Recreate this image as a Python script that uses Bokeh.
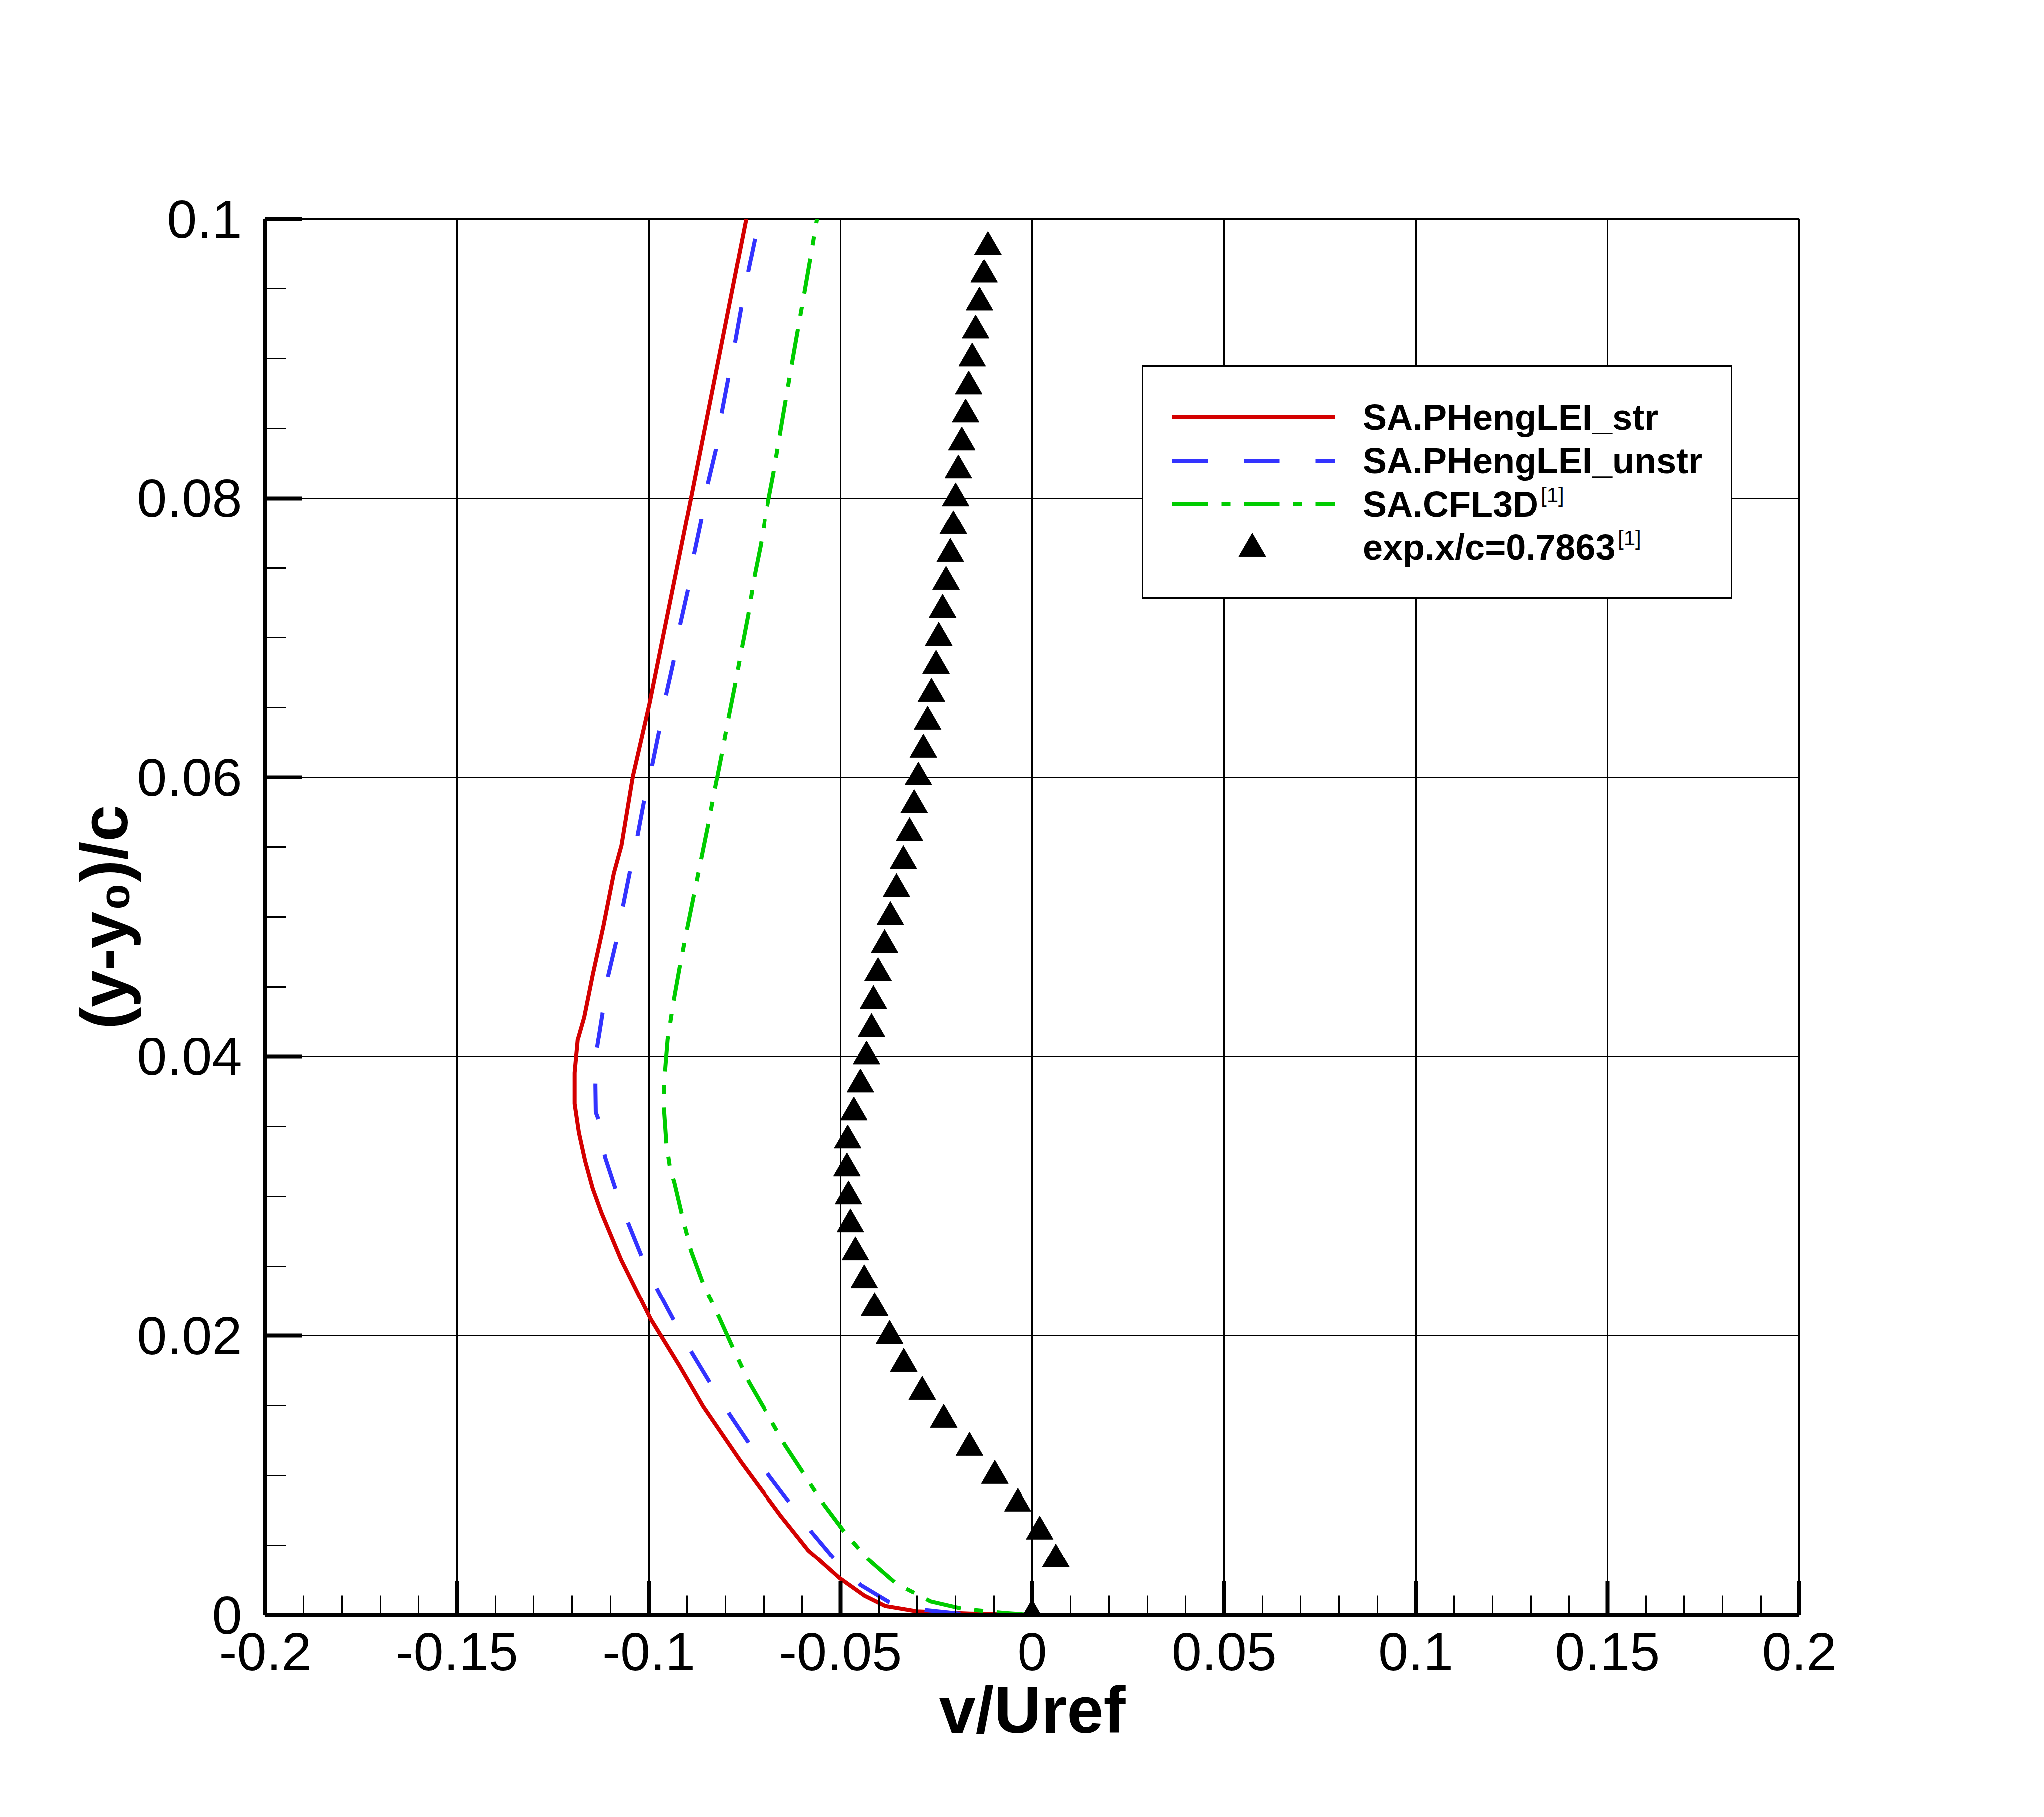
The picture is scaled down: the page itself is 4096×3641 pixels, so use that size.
from bokeh.plotting import figure
from bokeh.models import (Range1d, SingleIntervalTicker, CustomJSTickFormatter,
                          Legend, LegendItem)
from bokeh.embed import file_html
from bokeh.resources import INLINE

# ---------------- data ----------------
str_x = [0.0, -0.0164, -0.0301, -0.0383, -0.0438, -0.0502, -0.0584, -0.0657, -0.0758,
         -0.0858, -0.0922, -0.0995, -0.1072, -0.1123, -0.1146, -0.1166, -0.1182, -0.1193,
         -0.1193, -0.1185, -0.1168, -0.1146, -0.1118, -0.1091, -0.1071, -0.1041, -0.1031,
         -0.0998, -0.0890, -0.0746]
str_y = [0.0, 0.0001, 0.00026, 0.00064, 0.00139, 0.00264, 0.00465, 0.00716, 0.01092,
         0.01493, 0.01794, 0.0212, 0.02546, 0.02881, 0.03056, 0.03256, 0.03457, 0.03662,
         0.03883, 0.04121, 0.04284, 0.04585, 0.04936, 0.05312, 0.05512, 0.06014, 0.06133,
         0.0653, 0.08, 0.1]

unstr_x = [0.0, -0.0192, -0.0274, -0.0374, -0.0447, -0.0516, -0.0575, -0.0632, -0.0687,
           -0.0739, -0.0789, -0.0840, -0.0887, -0.0934, -0.0977, -0.1018, -0.1052, -0.1086,
           -0.1114, -0.1130, -0.1138, -0.1139, -0.1135, -0.1121, -0.1107, -0.1086, -0.1068,
           -0.1050, -0.1030, -0.1013, -0.0992, -0.0974, -0.0956, -0.0936, -0.0919, -0.0899,
           -0.0883, -0.0864, -0.0847, -0.0826, -0.0811, -0.0794, -0.0776, -0.0760, -0.0742,
           -0.0723]
unstr_y = [0.0, 0.0001, 0.00034, 0.00094, 0.00214, 0.00402, 0.00595, 0.00804, 0.01004,
           0.0123, 0.01435, 0.01661, 0.01874, 0.02107, 0.02328, 0.02566, 0.02797, 0.03047,
           0.03281, 0.03544, 0.036, 0.03795, 0.04058, 0.04302, 0.04565, 0.0481, 0.05066,
           0.05312, 0.0557, 0.05818, 0.06077, 0.0632, 0.06579, 0.06825, 0.07086, 0.07331,
           0.07587, 0.07833, 0.08096, 0.08339, 0.08598, 0.08843, 0.09104, 0.0935, 0.09608,
           0.09859]

cfl3d_x = [0.0, -0.0073, -0.0182, -0.0265, -0.0356, -0.0429, -0.0488, -0.0543, -0.0593,
           -0.0644, -0.0694, -0.0739, -0.0780, -0.0817, -0.0858, -0.0890, -0.0913, -0.0933,
           -0.0945, -0.0954, -0.0960, -0.0961, -0.0958, -0.0951, -0.0936, -0.0920, -0.0902,
           -0.0884, -0.0865, -0.0847, -0.0829, -0.0811, -0.0794, -0.0776, -0.0758, -0.0741,
           -0.0726, -0.0708, -0.0692, -0.0675, -0.0659, -0.0644, -0.0628, -0.0612, -0.0595,
           -0.0580, -0.0561]
cfl3d_y = [0.0, 0.00014, 0.00044, 0.00097, 0.00227, 0.00402, 0.0059, 0.00791, 0.01004,
           0.01217, 0.01456, 0.01669, 0.01907, 0.02133, 0.02371, 0.02609, 0.0286, 0.03093,
           0.03208, 0.03369, 0.03607, 0.03732, 0.03883, 0.04121, 0.04389, 0.04635, 0.04891,
           0.05136, 0.05394, 0.05638, 0.05901, 0.06152, 0.06404, 0.06654, 0.06918, 0.07161,
           0.07419, 0.07663, 0.07926, 0.08171, 0.08434, 0.08678, 0.08936, 0.09187, 0.0945,
           0.09688, 0.1]

exp_y = [0.0, 0.004, 0.006, 0.008, 0.010, 0.012, 0.014, 0.016, 0.018, 0.020, 0.022,
         0.024, 0.026, 0.028, 0.030, 0.032, 0.034, 0.036, 0.038, 0.040, 0.042, 0.044,
         0.046, 0.048, 0.050, 0.052, 0.054, 0.056, 0.058, 0.060, 0.062, 0.064, 0.066,
         0.068, 0.070, 0.072, 0.074, 0.076, 0.078, 0.080, 0.082, 0.084, 0.086, 0.088,
         0.090, 0.092, 0.094, 0.096, 0.098]
exp_x = [0.0, 0.0062, 0.0020, -0.0038, -0.0098, -0.0164, -0.0231, -0.0287, -0.0335,
         -0.0372, -0.0411, -0.0438, -0.0461, -0.0474, -0.0479, -0.0483, -0.0481, -0.0465,
         -0.0448, -0.0432, -0.0419, -0.0414, -0.0402, -0.0385, -0.0370, -0.0354, -0.0336,
         -0.0320, -0.0308, -0.0297, -0.0284, -0.0273, -0.0263, -0.0251, -0.0244, -0.0234,
         -0.0225, -0.0214, -0.0206, -0.0200, -0.0193, -0.0184, -0.0174, -0.0166, -0.0157,
         -0.0148, -0.0138, -0.0126, -0.0116]

series_labels = ["SA.PHengLEI_str", "SA.PHengLEI_unstr", "SA.CFL3D", "exp.x/c=0.7863"]
superscript = "[1]"
x_title = "v/Uref"
y_title = "(y-y\u2080)/c"

# ---------------- layout ----------------
W, H = 4096, 3641
L, R, T, B = 531, 491, 438, 405
XR = (-0.2, 0.2)
YR = (0.0, 0.1)
FW, FH = W - L - R, H - T - B

p = figure(width=W, height=H, x_range=Range1d(*XR), y_range=Range1d(*YR),
           output_backend="svg", toolbar_location=None,
           min_border_left=L, min_border_right=R, min_border_top=T, min_border_bottom=B,
           background_fill_color="white", border_fill_color="white")
p.styles = {"outline": "4px solid black", "outline-offset": "-4px"}

xt = SingleIntervalTicker(interval=0.05, num_minor_ticks=5)
yt = SingleIntervalTicker(interval=0.02, num_minor_ticks=4)
p.xaxis.ticker = xt
p.yaxis.ticker = yt
p.xgrid.ticker = xt
p.ygrid.ticker = yt
fmt = CustomJSTickFormatter(code="return String(Number(tick.toFixed(4)));")
p.xaxis.formatter = fmt
p.yaxis.formatter = fmt

for ax in (p.xaxis[0], p.yaxis[0]):
    ax.axis_line_color = "black"
    ax.axis_line_width = 9
    ax.major_tick_line_color = "black"
    ax.minor_tick_line_color = "black"
    ax.major_tick_line_width = 8
    ax.minor_tick_line_width = 3
    ax.major_tick_out = 0
    ax.minor_tick_out = 0
    ax.major_label_text_font = "Liberation Sans"
    ax.major_label_text_font_size = "108px"
    ax.major_label_text_color = "black"
    ax.axis_label_text_font = "Liberation Sans"
    ax.axis_label_text_font_style = "bold"
    ax.axis_label_text_font_size = "132px"
    ax.axis_label_text_color = "black"

p.xaxis.major_tick_in = 68
p.xaxis.minor_tick_in = 39
p.yaxis.major_tick_in = 74
p.yaxis.minor_tick_in = 42
p.xaxis.major_label_standoff = 36
p.yaxis.major_label_standoff = 47
p.xaxis.axis_label = x_title
p.yaxis.axis_label = y_title
p.xaxis.axis_label_standoff = 3
p.yaxis.axis_label_standoff = -12

p.grid.grid_line_color = "black"
p.grid.grid_line_width = 3
p.grid.grid_line_alpha = 1.0
p.outline_line_color = "black"
p.outline_line_width = 3
p.outline_line_alpha = 1.0

r1 = p.line(str_x, str_y, line_color="#d40000", line_width=8, line_join="round")
r2 = p.line(unstr_x, unstr_y, line_color="#3333ff", line_width=8, line_dash="72 72")
r3 = p.line(cfl3d_x, cfl3d_y, line_color="#00cc00", line_width=8, line_dash="72 27 18 27")
r4 = p.scatter(exp_x, exp_y, marker="triangle", size=54, fill_color="black",
               line_color="black")

# main legend box (rows 87 px apart)
LEG_LEFT, LEG_BOTTOM = 2288, 1200
PAD, GH, GW, STAND = 57, 87, 327, 56
legend = Legend(items=[LegendItem(label=series_labels[0], renderers=[r1]),
                       LegendItem(label=series_labels[1], renderers=[r2]),
                       LegendItem(label=series_labels[2], renderers=[r3]),
                       LegendItem(label=series_labels[3], renderers=[r4])],
                location=(LEG_LEFT - L, T + FH - LEG_BOTTOM), margin=0, padding=PAD,
                spacing=0, glyph_width=GW, glyph_height=GH, label_standoff=STAND,
                label_text_font="Liberation Sans", label_text_font_style="bold",
                label_text_font_size="72px", label_text_color="black",
                border_line_color="black", border_line_width=3, border_line_alpha=1.0,
                background_fill_color="white", background_fill_alpha=1.0)
p.add_layout(legend)

# full-size triangle symbol over the last legend row
row4_center = LEG_BOTTOM - PAD - GH / 2
row3_center = row4_center - GH
big = 135
tri_legend = Legend(items=[LegendItem(label=" ", renderers=[r4])],
                    location=(LEG_LEFT + PAD - L, T + FH - (row4_center + big / 2)),
                    margin=0, padding=0, spacing=0, glyph_width=GW, glyph_height=big,
                    label_standoff=0, label_text_font_size="10px",
                    border_line_alpha=0.0, background_fill_alpha=0.0)
p.add_layout(tri_legend)

# "[1]" superscripts, drawn as glyph-less legend entries
SUP_H = 60
for rend, X, Yc in [(r3, 3088, row3_center - 21), (r4, 3242, row4_center - 21)]:
    p.add_layout(Legend(items=[LegendItem(label=superscript, renderers=[rend])],
                        location=(X - L, T + FH - (Yc + SUP_H / 2)), margin=0, padding=0,
                        spacing=0, glyph_width=0, glyph_height=SUP_H, label_standoff=0,
                        label_text_font="Liberation Sans", label_text_font_size="42px",
                        label_text_color="black",
                        border_line_alpha=0.0, background_fill_alpha=0.0))

open("out.html", "w").write(file_html(p, INLINE))
